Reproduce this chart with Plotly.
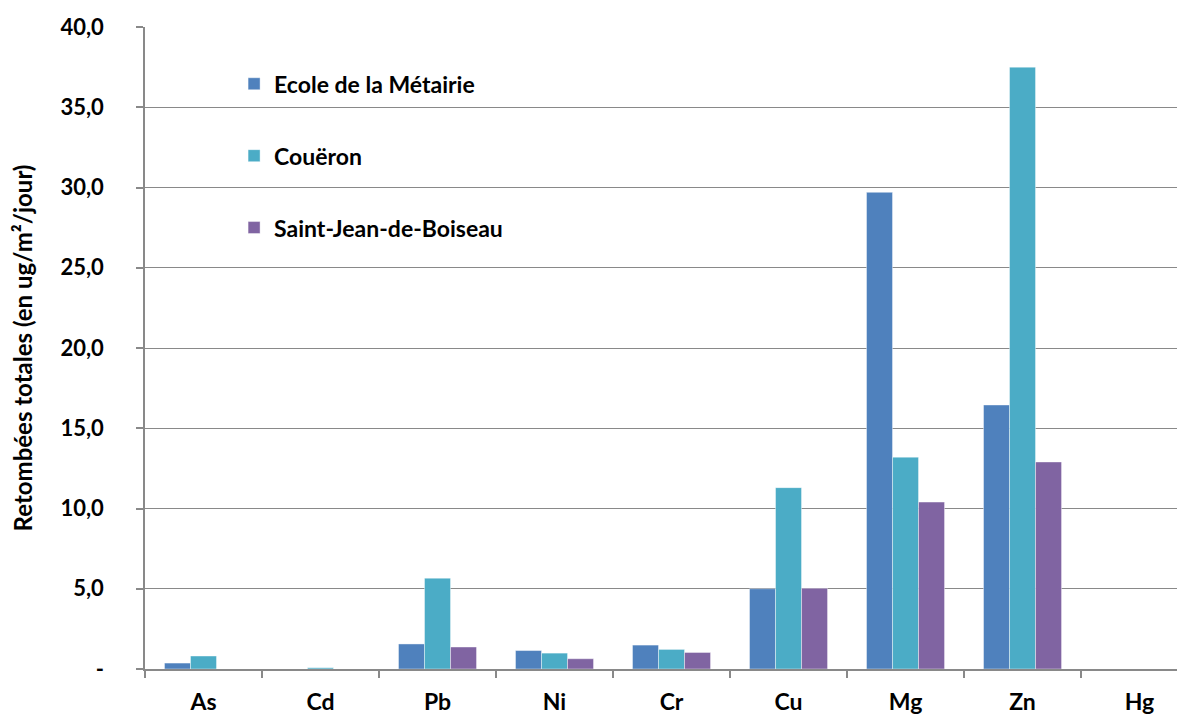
import plotly.graph_objects as go

categories = ["As", "Cd", "Pb", "Ni", "Cr", "Cu", "Mg", "Zn", "Hg"]
ecole = [0.37, 0.0, 1.56, 1.15, 1.49, 5.0, 29.7, 16.45, 0.0]
coueron = [0.81, 0.08, 5.66, 0.99, 1.22, 11.3, 13.2, 37.5, 0.0]
saint_jean = [0.0, 0.0, 1.37, 0.64, 1.03, 5.03, 10.4, 12.9, 0.0]
series_names = ["Ecole de la Métairie", "Couëron", "Saint-Jean-de-Boiseau"]
colors = ["#4F81BD", "#4BACC6", "#8064A2"]
y_tickvals = [0, 5, 10, 15, 20, 25, 30, 35, 40]
y_ticktext = ["-", "5,0", "10,0", "15,0", "20,0", "25,0", "30,0", "35,0", "40,0"]

fig = go.Figure()
for i, (name, vals) in enumerate(zip(series_names, [ecole, coueron, saint_jean])):
    fig.add_trace(go.Bar(
        x=categories, y=vals, name=name,
        marker=dict(color=colors[i], line=dict(color="rgba(255,255,255,0.6)", width=0.7)),
        legendgroup=f"g{i}",
    ))

font_family = "Lato, 'Open Sans', sans-serif"
fig.update_layout(
    width=1185, height=716,
    barmode="group", bargap=0.333, bargroupgap=0,
    plot_bgcolor="white", paper_bgcolor="white",
    margin=dict(l=137, r=0, t=19, b=55),
    font=dict(family=font_family, color="black"),
    showlegend=True,
    legend=dict(
        x=0.085, y=0.945, xanchor="left", yanchor="top",
        bgcolor="rgba(0,0,0,0)",
        font=dict(size=23, family=font_family, color="black", weight="bold"),
        tracegroupgap=39,
        itemwidth=30,
    ),
    xaxis=dict(
        range=[-0.5, 8.457],
        showline=True, linecolor="#898989", linewidth=1.5,
        ticks="outside", tickson="boundaries", ticklen=7, tickcolor="#898989", tickwidth=1.5,
        tickfont=dict(size=23, family=font_family, color="black", weight="bold"),
        ticklabelstandoff=12,
        showgrid=False,
    ),
    yaxis=dict(
        range=[0, 40],
        tickvals=y_tickvals, ticktext=y_ticktext,
        showline=True, linecolor="#898989", linewidth=1.5,
        ticks="outside", ticklen=7, tickcolor="#898989", tickwidth=1.5,
        tickfont=dict(size=22, family=font_family, color="black", weight="bold"),
        ticklabelstandoff=28,
        showgrid=True, gridcolor="#898989", gridwidth=1.3,
        zeroline=False,
        title=dict(text="Retombées totales (en ug/m²/jour)",
                   font=dict(size=24, family=font_family, color="black", weight="bold"),
                   standoff=23),
    ),
)

fig.write_html("out.html")
